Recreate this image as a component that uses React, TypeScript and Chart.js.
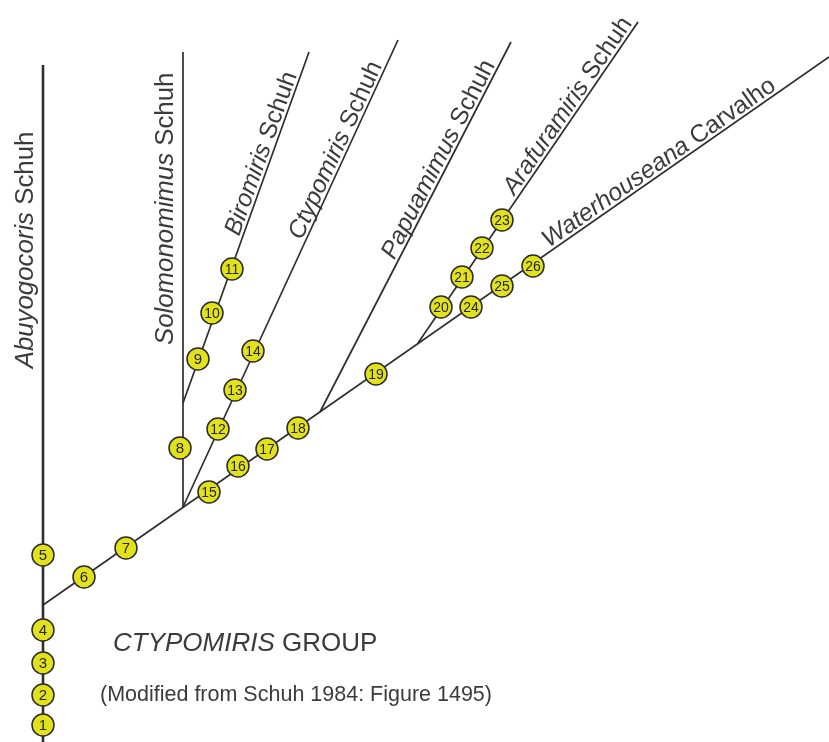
import React, { useEffect, useRef } from "react";
import { Chart, registerables } from "chart.js";

Chart.register(...registerables);

// ---- Data (cladogram of the Ctypomiris group) ----
const nodeIds = [1, 2, 3, 4, 5, 6, 7, 8, 9, 10, 11, 12, 13, 14, 15, 16, 17, 18, 19, 20, 21, 22, 23, 24, 25, 26];
const nodeX = [43, 43, 43, 43, 43, 84, 126, 180, 198, 212, 232, 218, 235, 253, 209, 238, 267, 298, 376, 441, 462, 482, 502, 471, 502, 533];
const nodeY = [725, 695, 663, 630, 555, 577, 548, 448, 359, 313, 269, 429, 390, 351, 492, 466, 449, 428, 374, 307, 277, 248, 220, 307, 286, 266];

const taxonGenus = ["Abuyogocoris", "Solomonomimus", "Biromiris", "Ctypomiris", "Papuamimus", "Arafuramiris", "Waterhouseana"];
const taxonAuthor = ["Schuh", "Schuh", "Schuh", "Schuh", "Schuh", "Schuh", "Carvalho"];
const branchX0 = [43, 183, 183, 183, 320, 418, 43];
const branchY0 = [742, 507, 403, 507, 412, 343, 605];
const branchX1 = [43, 183, 309, 398, 511, 638, 829];
const branchY1 = [65, 52, 52, 40, 42, 22, 57];

const groupTitle = "CTYPOMIRIS";
const groupSuffix = " GROUP";
const sourceNote = "(Modified from Schuh 1984: Figure 1495)";

// label placement along each branch (fraction from base) and gap to the line
const labelAt = [0.552, 0.356, 0.47, 0.567, 0.405, 0.452, 0.646];
const labelGap = [10, 10, 3.5, 3.5, 3.5, 3.5, 3.5];

const FONT = '"Liberation Sans", Arial, Helvetica, sans-serif';
const TEXT = "#3b3b3b";
const LINE = "#2e2e2e";
const LABEL_PX_VERTICAL = 25.8;
const LABEL_PX_SLANTED = 24.6;

const labelPlugin = {
  id: "cladeLabels",
  afterDatasetsDraw(chart: any) {
    const ctx: CanvasRenderingContext2D = chart.ctx;
    const xs = chart.scales.x;
    const ys = chart.scales.y;
    ctx.save();
    // taxon labels along branches
    for (let i = 0; i < taxonGenus.length; i++) {
      const px0 = xs.getPixelForValue(branchX0[i]);
      const py0 = ys.getPixelForValue(branchY0[i]);
      const px1 = xs.getPixelForValue(branchX1[i]);
      const py1 = ys.getPixelForValue(branchY1[i]);
      const ang = Math.atan2(py1 - py0, px1 - px0);
      const vertical = Math.abs(px1 - px0) < 1;
      const size = vertical ? LABEL_PX_VERTICAL : LABEL_PX_SLANTED;
      const t = labelAt[i];
      const bx = px0 + (px1 - px0) * t;
      const by = py0 + (py1 - py0) * t;
      ctx.save();
      ctx.translate(bx, by);
      ctx.rotate(ang);
      ctx.fillStyle = TEXT;
      ctx.textBaseline = "alphabetic";
      ctx.textAlign = "left";
      ctx.font = `italic ${size}px ${FONT}`;
      ctx.fillText(taxonGenus[i], 0, -labelGap[i]);
      const w = ctx.measureText(taxonGenus[i]).width;
      ctx.font = `${size}px ${FONT}`;
      ctx.fillText(" " + taxonAuthor[i], w, -labelGap[i]);
      ctx.restore();
    }
    // node numbers
    const meta = chart.getDatasetMeta(0);
    ctx.fillStyle = "#262626";
    ctx.textAlign = "center";
    ctx.textBaseline = "middle";
    meta.data.forEach((pt: any, k: number) => {
      const s = String(nodeIds[k]);
      ctx.font = `${s.length > 1 ? 14 : 15}px ${FONT}`;
      ctx.fillText(s, pt.x, pt.y + 1);
    });
    // group title and note
    ctx.textAlign = "left";
    ctx.textBaseline = "alphabetic";
    ctx.fillStyle = TEXT;
    ctx.font = `italic 26px ${FONT}`;
    const gx = xs.getPixelForValue(113);
    const gy = ys.getPixelForValue(651);
    ctx.fillText(groupTitle, gx, gy);
    const gw = ctx.measureText(groupTitle).width;
    ctx.font = `26px ${FONT}`;
    ctx.fillText(groupSuffix, gx + gw, gy);
    ctx.font = `21.5px ${FONT}`;
    ctx.fillText(sourceNote, xs.getPixelForValue(100), ys.getPixelForValue(701));
    ctx.restore();
  },
};

export default function App() {
  const ref = useRef<HTMLCanvasElement | null>(null);
  useEffect(() => {
    if (!ref.current) return;
    const nodes = nodeIds.map((_, i) => ({ x: nodeX[i], y: nodeY[i] }));
    const branchSets = taxonGenus.map((name, i) => ({
      label: name,
      data: [
        { x: branchX0[i], y: branchY0[i] },
        { x: branchX1[i], y: branchY1[i] },
      ],
      showLine: true,
      pointRadius: 0,
      borderColor: LINE,
      borderWidth: i === 0 ? 2.6 : 1.7,
      clip: false as any,
    }));
    const chart = new Chart(ref.current, {
      type: "scatter",
      data: {
        datasets: [
          {
            label: "nodes",
            data: nodes,
            pointRadius: 11,
            pointBackgroundColor: "#e2e21c",
            pointBorderColor: "#2a2a2a",
            pointBorderWidth: 1.5,
            showLine: false,
            clip: false as any,
          },
          ...branchSets,
        ],
      },
      options: {
        animation: false,
        responsive: true,
        maintainAspectRatio: false,
        layout: { padding: 0, autoPadding: false },
        plugins: { legend: { display: false }, tooltip: { enabled: false } },
        events: [],
        scales: {
          x: { type: "linear", min: 0, max: 829, display: false },
          y: { type: "linear", min: 0, max: 742, reverse: true, display: false },
        },
      },
      plugins: [labelPlugin],
    });
    return () => chart.destroy();
  }, []);
  return (
    <div style={{ position: "fixed", left: 0, top: 0, width: 829, height: 742, background: "#fff" }}>
      <canvas ref={ref} />
    </div>
  );
}
